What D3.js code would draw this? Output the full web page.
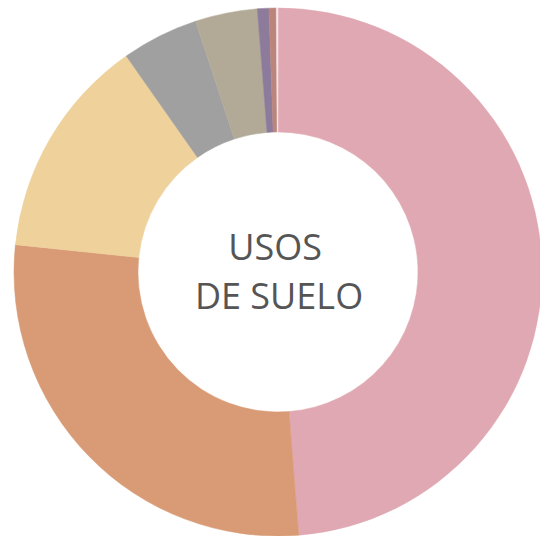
<!DOCTYPE html>
<html>
<head>
<meta charset="utf-8">
<script src="https://cdn.jsdelivr.net/npm/d3@7"></script>
<style>
  html, body { margin: 0; padding: 0; background: #fff; }
  svg { display: block; }
</style>
</head>
<body>
<svg id="chart" width="540" height="536"></svg>
<script>
const categories = ["A", "B", "C", "D", "E", "F", "G", "H"];
const values = [48.75, 27.9, 13.6, 4.7, 3.8, 0.7, 0.45, 0.1];
const colors = ["#e0a8b3", "#d99b75", "#efd19c", "#a0a0a0", "#b2aa97", "#8d7b9c", "#bb857c", "#f4e4e6"];
const centerLines = ["USOS", "DE SUELO"];

const svg = d3.select("#chart");
const cx = 278, cy = 272, outerR = 264, innerR = 140;

const data = categories.map((c, i) => ({ cat: c, value: values[i], color: colors[i] }));
const pie = d3.pie().value(d => d.value).sort(null);
const arc = d3.arc().innerRadius(innerR).outerRadius(outerR);

const g = svg.append("g").attr("transform", `translate(${cx},${cy})`);
g.selectAll("path")
  .data(pie(data))
  .join("path")
  .attr("d", arc)
  .attr("fill", d => d.data.color)
  .attr("stroke", d => d.data.color)
  .attr("stroke-width", 0.5);

const text = g.append("text")
  .attr("text-anchor", "middle")
  .attr("font-family", "'Open Sans', sans-serif")
  .attr("font-size", 36)
  .attr("fill", "#555555");
text.selectAll("tspan")
  .data(centerLines)
  .join("tspan")
  .attr("x", (d, i) => i === 0 ? -3 : 1)
  .attr("y", (d, i) => i === 0 ? -12 : 37)
  .text(d => d);
</script>
</body>
</html>
